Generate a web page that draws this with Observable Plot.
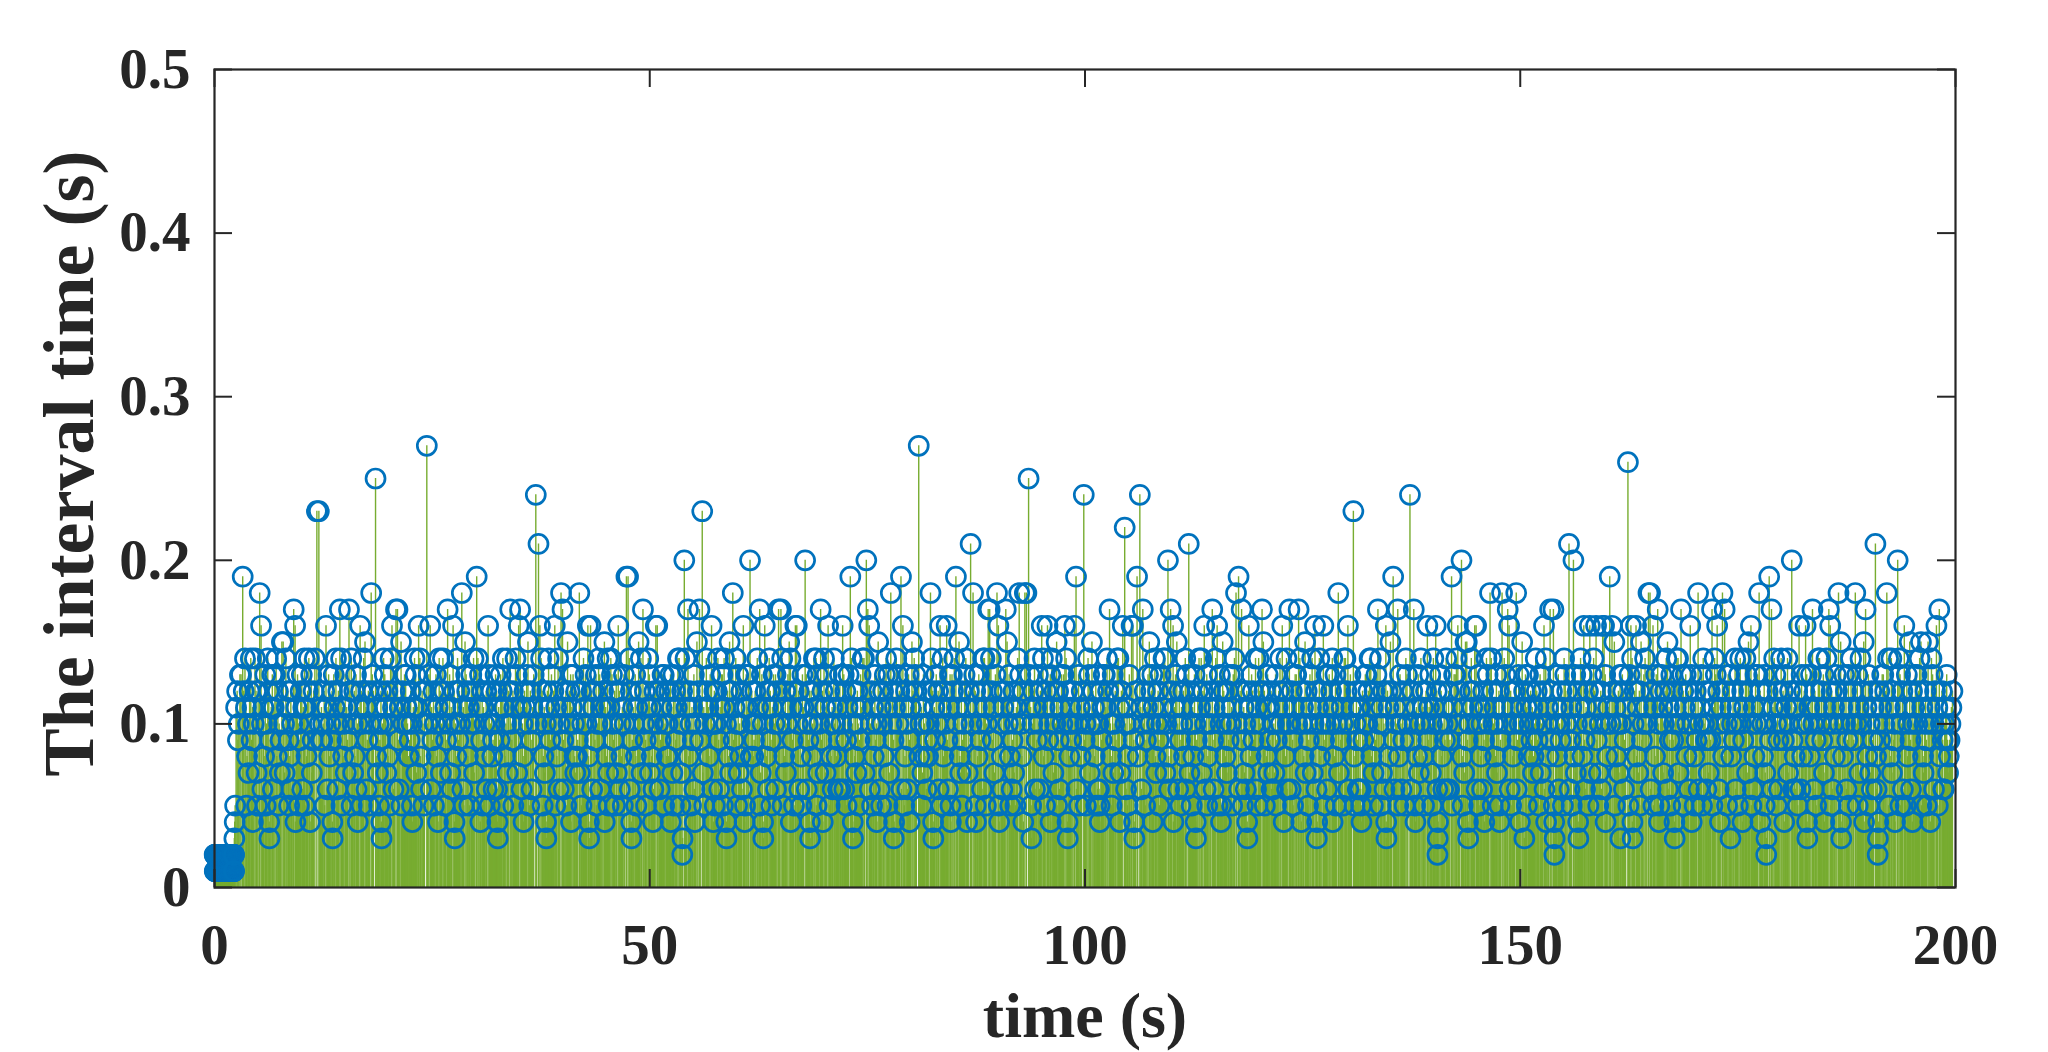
<!DOCTYPE html>
<html><head><meta charset="utf-8">
<script src="https://cdn.jsdelivr.net/npm/d3@7"></script>
<script src="https://cdn.jsdelivr.net/npm/@observablehq/plot@0.6"></script>
<style>
html,body{margin:0;padding:0;background:#fff;overflow:hidden;}
</style></head><body><div id="chart"></div>
<script>
const xTicks = [0, 50, 100, 150, 200];
const xTickLabels = ["0", "50", "100", "150", "200"];
const yTicks = [0, 0.1, 0.2, 0.3, 0.4, 0.5];
const yTickLabels = ["0", "0.1", "0.2", "0.3", "0.4", "0.5"];
const xLabel = "time (s)";
const yLabel = "The interval time (s)";

// interval values, in hundredths of a second, in order of arrival (~10 s per array)
const seg00 = [2,1,2,2,1,1,2,1,2,1, 1,2,2,1,2,1,1,2,1,2, 2,2,1,1,2,1,2,1,1,2, 1,2,1,2,2,1,1,2,2,1, 2,1,1,2,1,2,2,1,1,2, 1,1,2,2,1,2,1,2,2,1, 2,1,2,1,1,2,2,1,2,1, 1,2,1,2,2,1,2,1,1,2, 2,1,1,2,1,2,1,2,2,1, 1,2,2,1,2,1,1,1,2,2, 2,1,2,1,2,2,1,2,1,1, 1,2,1,1,2,2,1,2,2,1, 2,2,1,2,1,1,2,1,2,1, 1,1,2,2,1,2,2,1,1,2, 2,1,2,1,2,1,1,2,2,1];
const segA = [3,4,5,11,12,9,10,13,13, 19,12,14,11,5,8,10,7,12, 14,9,11,4,10,14,12,7,5, 12,18,16,10,6,11,8,13,5, 10,14,12,4,3,9,11,13,6, 11,13,14,8,12,5,10,7,9, 15,15,10,7,14,11,12,9,5, 8,12,6,10,17,16,4,11,13, 10,5,9,12,13,6,11,14,5, 11,8,12,14,10,4,13,7,9, 12,14,23,23,10,9,11,9];
const segB = [10,12,5,16,11,6,13,8,10, 9,12,4,3,13,11,14,10,6, 12,17,14,5,11,8,10,13,7, 11,9,17,12,14,5,10,7,12, 8,13,6,10,4,11,16,12,5, 10,14,15,11,6,9,12,5,10, 18,13,12,25,8,11,7,10,5, 9,12,4,3,10,14,13,11,7, 12,8,10,5,14,16,11,6,12, 17,17,9,6,11,15,5,12,10, 13,13,11,10,8,8];
const segC = [9,12,10,5,4,11,14,13,7, 11,16,14,8,6,12,10,5,12, 27,10,13,16,6,11,9,12,5, 10,13,8,11,4,14,12,7,10, 14,12,5,11,9,17,10,13,7, 11,6,16,12,4,3,10,8,14, 9,12,10,18,6,11,5,15,13, 12,8,11,5,10,13,12,14,7, 10,19,14,11,13,4,9,12,5, 11,10,8,12,6,16,13,5,10, 12,8,9,6];
const segD = [10,13,12,6,4,3,11,9,13, 12,14,5,11,8,10,14,7,12, 17,10,9,12,5,11,14,13,7, 16,17,11,6,10,8,4,12,11, 13,15,10,5,12,9,6,11,13, 24,10,21,16,14,12,5,8,11, 7,10,4,3,12,14,11,9,13, 10,12,16,5,11,8,14,6,10, 18,17,9,6,11,12,5,15,10, 12,13,4,11,13,10,8,7,12,8];
const segE = [9,18,7,12,5,10,14,11,13, 10,16,8,4,3,16,12,6,11, 12,9,13,5,10,14,13,6,11, 10,12,15,4,11,8,14,7,5, 11,14,13,10,9,12,5,13,7, 16,12,6,10,8,11,5,13,10, 19,19,14,6,12,4,3,9,11, 10,13,8,5,11,15,12,14,7, 17,10,12,9,5,11,14,13,7, 11,8,10,4,6,12,16,16,10, 12,6,9,11,13,13,5,10,12,8];
const segF = [10,8,12,13,4,11,7,13,5, 12,9,11,14,14,10,5,7,12, 2,3,20,14,11,17,8,12,10, 5,11,9,13,6,4,10,15,12, 17,9,23,7,11,5,10,14,12, 11,8,13,16,6,10,4,12,5, 10,12,14,9,6,11,13,13,5, 14,11,10,4,3,12,8,15,7, 12,18,9,11,14,10,5,13,7, 10,8,12,6,16,11,4,5,13, 11,13,20,8,12,10,8];
const segG = [9,12,10,14,11,17,5,7,13, 10,4,3,16,12,8,11,6,14, 12,9,5,11,13,10,13,6,12, 17,10,17,14,5,11,8,12,7, 10,13,15,14,4,11,9,12,5, 16,16,10,12,6,11,8,5,13, 11,20,13,6,10,9,12,4,3, 12,8,10,14,11,14,5,13,7, 10,17,9,12,4,14,11,7,13, 16,12,5,10,8,11,6,14,10, 12,8,11,6,9,13,6];
const segH = [10,16,13,6,12,9,5,11,13, 19,14,10,4,3,12,8,11,7, 12,10,5,9,13,11,14,14,7, 20,17,16,6,10,12,5,11,8, 13,9,10,4,15,12,6,11,5, 10,12,8,13,14,11,5,13,7, 18,10,12,9,3,4,11,14,13, 10,12,19,6,16,11,5,8,12, 10,6,13,9,4,11,15,12,14, 13,12,27,8,10,11,5,7,13, 10,8,12,6,9,8];
const segI = [10,18,14,12,4,3,11,9,13, 10,12,6,16,11,5,14,8,12, 10,16,9,6,11,13,5,4,13, 12,14,19,10,11,15,8,7,12, 5,9,10,13,14,11,4,7,12, 21,10,18,13,12,5,4,11,8, 13,10,9,12,6,14,14,11,5, 10,17,17,14,12,9,11,7,13, 18,16,5,4,10,12,8,6,11, 12,17,15,10,13,8,5,11,6];
const segJ = [9,12,7,10,5,11,14,18,13, 10,8,12,4,18,18,25,13,11, 5,3,10,12,14,6,11,9,13, 10,6,12,16,14,8,11,5,12, 16,9,10,13,4,14,11,7,12, 10,15,5,12,9,6,11,13,10, 13,16,14,12,4,3,10,8,11,9,10, 12,16,19,6,10,13,5,11,8, 12,24,9,10,5,11,14,13,7, 10,15,12,11,8,13,5,10,6];
const segK = [10,6,5,4,12,9,11,13,13, 11,14,12,17,10,8,5,13,7, 10,12,9,14,14,11,4,7,12, 16,22,10,6,11,5,8,13,10, 16,16,9,4,3,12,19,8,24,11, 6,17,10,12,5,9,11,13,15, 10,12,13,4,11,14,8,7,10, 12,9,5,13,10,11,14,14,7, 10,20,8,6,17,12,16,4,11, 13,15,10,6,12,9,5,11,10, 12,8,14,6];
const segL = [13,21,7,12,10,5,11,8,13, 10,4,3,9,12,14,11,14,7, 12,16,10,6,13,5,8,11,12, 10,17,9,6,11,14,16,5,12, 13,10,4,5,15,12,11,8,10, 7,12,9,13,10,11,5,13,14, 18,10,19,6,12,17,9,5,11,7, 10,6,12,4,3,16,11,8,13, 12,9,10,14,6,11,5,14,12, 10,17,15,12,5,11,8,13,7, 11,9,12,6,10,6];
const segM = [10,7,13,5,9,11,12,14,10, 16,12,4,11,8,14,6,10,17, 10,6,12,9,5,11,13,13,10, 17,14,12,4,10,11,8,15,7, 12,10,5,9,13,11,14,7,10, 16,12,6,3,4,11,14,8,10, 12,16,9,5,10,13,6,11,13, 10,12,14,4,11,8,13,5,10, 18,7,12,9,11,10,5,14,14, 12,16,6,10,13,11,23,8,5, 10,12,9,6,11,6];
const segN = [11,6,5,4,12,9,10,13,13, 10,12,14,14,8,11,5,7,12, 9,13,17,10,14,5,11,7,12, 10,6,16,4,3,12,11,8,15, 12,19,9,6,11,10,17,5,8,13, 10,6,12,9,11,5,14,13,10, 24,9,6,12,17,10,5,4,11,8, 13,7,10,14,12,11,8,5,10, 12,16,9,11,13,7,10,5,14, 11,16,12,6,2,3,4,10,13, 12,8,10,6,11,9,14,6];
const segO = [10,12,6,9,19,5,11,13,13, 14,16,10,12,20,8,5,11,7, 15,15,9,4,3,10,12,14,11, 12,16,16,6,10,13,5,11,8, 10,6,12,9,4,11,14,13,10, 18,14,12,5,10,11,8,13,7, 10,12,5,4,9,18,11,14,13, 10,17,16,6,12,5,11,8,10, 12,18,6,9,13,10,4,11,15, 10,12,3,13,11,5,13,8,10, 12,9,11,7,8];
const segP = [10,14,12,9,11,5,13,7,10, 12,16,6,14,4,10,11,8,17, 9,12,17,5,4,2,3,10,11,8, 13,6,10,9,12,11,5,14,13, 10,12,21,6,9,11,5,20,8,13, 7,10,12,4,3,11,14,13,8, 16,9,6,11,10,12,5,16,7,13, 10,14,12,16,9,11,5,7,10, 12,6,16,16,13,4,10,8,11, 19,10,16,12,15,5,11,8,10, 12,7,13,3];
const segQ = [10,13,12,6,9,11,26,5,13, 16,14,4,3,10,12,16,8,11, 7,12,5,15,9,10,13,14,11, 10,18,18,6,12,16,5,11,8, 13,17,10,4,5,12,13,11,7, 10,12,14,15,6,11,9,5,13, 12,9,10,4,3,11,14,14,7, 10,17,13,12,5,11,13,8,10, 12,6,16,13,4,10,11,8,5, 12,9,18,6,10,11,13,5,14, 10,12,9,6,9];
const segR = [10,7,12,9,17,5,11,14,13, 16,12,6,10,4,11,18,8,17, 12,10,5,13,13,11,3,8,10, 12,9,14,6,10,11,5,13,14, 10,12,4,9,11,14,13,7,15, 12,16,5,10,6,11,8,13,10, 13,18,12,4,11,10,8,13,5, 7,10,2,3,12,19,9,17,6,11, 14,13,10,5,12,9,6,11,14, 10,12,9,4,13,11,14,7,10, 12,20,9,6,11,8,6];
const segS = [11,12,5,16,10,6,13,8,10, 12,16,13,4,3,10,11,8,13, 17,10,6,12,9,5,11,14,14, 10,12,9,13,7,4,11,14,10, 17,16,5,12,6,10,11,8,13, 12,18,10,15,4,3,11,8,13, 10,12,6,9,13,5,11,14,10, 12,9,18,10,13,5,11,7,14, 10,12,15,4,17,11,8,13,5, 10,7,12,6,9,11,21,8,6];
const segT = [10,2,3,4,12,9,11,13,13, 10,12,18,14,5,11,8,14,7, 12,9,10,4,11,20,14,13,5, 10,12,6,16,11,5,13,8,10, 15,9,6,12,4,10,11,13,13, 10,12,14,15,5,11,8,7,10, 12,9,5,15,10,11,4,14,13, 10,6,12,16,11,5,17,8,10, 12,9,6,6,10,11,13,9,7,8,9,10,11,12];

const segments = [seg00, segA, segB, segC, segD, segE, segF, segG, segH, segI, segJ,
                  segK, segL, segM, segN, segO, segP, segQ, segR, segS, segT];
const intervals = segments.flat().map(v => v / 100);
// each arrival time is the running sum of the intervals
const times = d3.cumsum(intervals);
const data = intervals.map((v, i) => ({t: times[i], v}));

const W = 2048, H = 1052;
const mL = 214, mR = 93, mT = 69, mB = 165;
const pw = W - mL - mR, ph = H - mT - mB;
const ink = "#262626";
const tickLen = 18;

const chart = Plot.plot({
  width: W, height: H,
  marginLeft: mL, marginRight: mR, marginTop: mT, marginBottom: mB,
  x: {domain: [0, 200], axis: null},
  y: {domain: [0, 0.5], axis: null},
  style: {fontFamily: "'Liberation Serif', 'Times New Roman', serif", fontWeight: "bold", color: ink, background: "#fff"},
  marks: [
    Plot.ruleX(data, {x: "t", y1: 0, y2: "v", stroke: "#77AC30", strokeWidth: 1.4}),
    Plot.dot(data, {x: "t", y: "v", r: 9.5, stroke: "#0072BD", strokeWidth: 2.7, fill: "none"}),
    Plot.frame({stroke: ink, strokeWidth: 2.2}),
    Plot.tickX(xTicks, {x: d => d, stroke: ink, strokeWidth: 2, insetTop: ph - tickLen}),
    Plot.tickX(xTicks, {x: d => d, stroke: ink, strokeWidth: 2, insetBottom: ph - tickLen}),
    Plot.tickY(yTicks, {y: d => d, stroke: ink, strokeWidth: 2, insetRight: pw - tickLen}),
    Plot.tickY(yTicks, {y: d => d, stroke: ink, strokeWidth: 2, insetLeft: pw - tickLen}),
    Plot.text(xTicks, {x: d => d, frameAnchor: "bottom", text: (d, i) => xTickLabels[i], lineAnchor: "bottom", dy: 76, fontSize: 57, fill: ink}),
    Plot.text(yTicks, {y: d => d, frameAnchor: "left", text: (d, i) => yTickLabels[i], textAnchor: "end", dx: -24, fontSize: 57, fill: ink}),
    Plot.text([xLabel], {frameAnchor: "bottom", text: d => d, textAnchor: "middle", lineAnchor: "bottom", dy: 149, fontSize: 64, fill: ink}),
    Plot.text([yLabel], {frameAnchor: "left", text: d => d, textAnchor: "middle", rotate: -90, lineAnchor: "bottom", dx: -122, dy: -15, fontSize: 72, fill: ink})
  ]
});
document.getElementById("chart").appendChild(chart);
</script>
</body></html>
